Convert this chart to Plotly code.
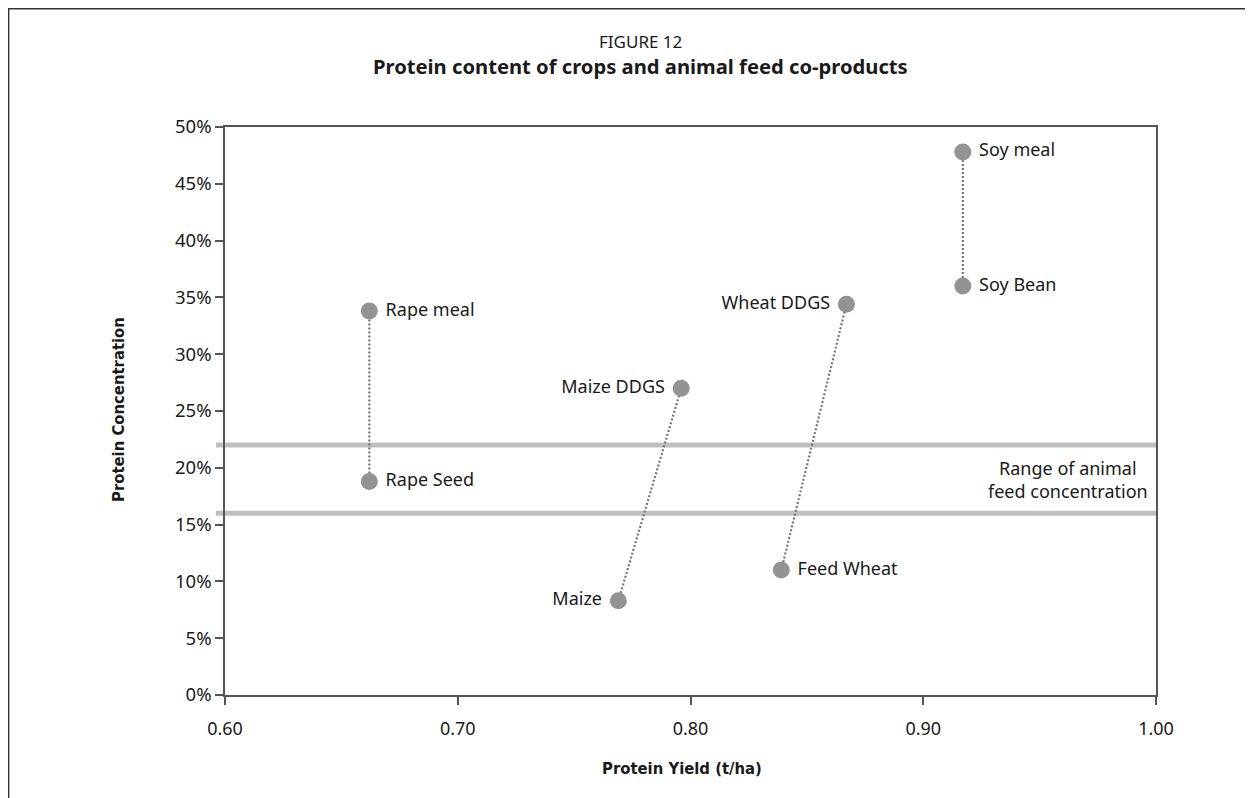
import plotly.graph_objects as go

# ---- data ----
crops = ["Rape Seed", "Maize", "Feed Wheat", "Soy Bean"]
crop_yield = [0.662, 0.769, 0.839, 0.917]
crop_protein = [0.188, 0.083, 0.110, 0.360]
crop_label_pos = ["middle right", "middle left", "middle right", "middle right"]

coproducts = ["Rape meal", "Maize DDGS", "Wheat DDGS", "Soy meal"]
coproduct_yield = [0.662, 0.796, 0.867, 0.917]
coproduct_protein = [0.338, 0.270, 0.344, 0.478]
coproduct_label_pos = ["middle right", "middle left", "middle left", "middle right"]

feed_range = [0.16, 0.22]
feed_range_label = "Range of animal<br>feed concentration"

x_ticks = [0.6, 0.7, 0.8, 0.9, 1.0]
y_ticks = [0.0, 0.05, 0.10, 0.15, 0.20, 0.25, 0.30, 0.35, 0.40, 0.45, 0.50]

FONT = "Noto Sans, Open Sans, sans-serif"
COND = "DejaVu Sans Condensed, Liberation Sans Narrow, Roboto Condensed, Roboto, sans-serif"

W, H = 1245, 790
L, R, T, B = 217, 97, 119, 103
PW, PH = W - L - R, H - T - B


def px_x(p):
    return (p - L) / PW


def px_y(p):
    return (T + PH - p) / PH


def templ(positions):
    return ["\u00a0%{text}" if "right" in p else "%{text}\u00a0" for p in positions]


fig = go.Figure()

# dotted connectors
for i in range(len(crops)):
    fig.add_trace(go.Scatter(
        x=[crop_yield[i], coproduct_yield[i]],
        y=[crop_protein[i], coproduct_protein[i]],
        mode="lines",
        line=dict(color="#767676", width=2.2, dash="2px,2px"),
        hoverinfo="skip", showlegend=False))

fig.add_trace(go.Scatter(
    x=crop_yield, y=crop_protein, text=crops, mode="markers+text",
    textposition=crop_label_pos, texttemplate=templ(crop_label_pos),
    marker=dict(size=17, color="#939393"),
    textfont=dict(family=FONT, size=18, color="#1a1a1a"),
    cliponaxis=False, showlegend=False))

fig.add_trace(go.Scatter(
    x=coproduct_yield, y=coproduct_protein, text=coproducts, mode="markers+text",
    textposition=coproduct_label_pos, texttemplate=templ(coproduct_label_pos),
    marker=dict(size=17, color="#939393"),
    textfont=dict(family=FONT, size=18, color="#1a1a1a"),
    cliponaxis=False, showlegend=False))

shapes = []
for v in feed_range:
    shapes.append(dict(type="line", xref="paper", yref="y", x0=px_x(L - 9), x1=1.0,
                       y0=v, y1=v, line=dict(color="#bfbfbf", width=5), layer="between"))
# outer frame (left and top edges of the figure box)
shapes.append(dict(type="path", xref="paper", yref="paper",
                   path=f"M {px_x(0.5)},-0.4 L {px_x(0.5)},{px_y(0.5)} L 1.4,{px_y(0.5)}",
                   line=dict(color="#333333", width=1.8)))

annotations = [
    dict(text="FIGURE 12", xref="paper", yref="paper", x=px_x(632), y=px_y(34),
         showarrow=False, font=dict(family=FONT, size=17, color="#1a1a1a"),
         xanchor="center", yanchor="middle"),
    dict(text="<b>Protein content of crops and animal feed co-products</b>", xref="paper", yref="paper",
         x=px_x(632), y=px_y(58), showarrow=False,
         font=dict(family=FONT, size=20.2, color="#1a1a1a"), xanchor="center", yanchor="middle"),
    dict(text="<b>Protein Yield (t/ha)</b>", xref="paper", yref="paper",
         x=px_x(674), y=px_y(760), showarrow=False,
         font=dict(family=COND, size=16.5, color="#1a1a1a"), xanchor="center", yanchor="middle"),
    dict(text="<b>Protein Concentration</b>", xref="paper", yref="paper",
         x=px_x(111), y=px_y(402), showarrow=False, textangle=-90,
         font=dict(family=COND, size=16.5, color="#1a1a1a"), xanchor="center", yanchor="middle"),
    dict(text=feed_range_label, xref="paper", yref="y",
         x=px_x(1060), y=sum(feed_range) / 2, showarrow=False, align="center",
         font=dict(family=FONT, size=18, color="#1a1a1a"), xanchor="center", yanchor="middle"),
]

fig.update_layout(
    width=W, height=H,
    margin=dict(l=L, r=R, t=T, b=B),
    paper_bgcolor="white", plot_bgcolor="white",
    shapes=shapes, annotations=annotations,
    xaxis=dict(range=[0.6, 1.0], tickvals=x_ticks, tickformat=".2f",
               showgrid=False, zeroline=False, showline=True, mirror=True,
               linecolor="#555555", linewidth=1.5, ticks="outside", ticklen=8,
               tickcolor="#555555", tickwidth=1.5, ticklabelstandoff=9,
               tickfont=dict(family=FONT, size=18, color="#1a1a1a")),
    yaxis=dict(range=[0, 0.5], tickvals=y_ticks, tickformat=".0%",
               showgrid=False, zeroline=False, showline=True, mirror=True,
               linecolor="#555555", linewidth=1.5, ticks="outside", ticklen=8,
               tickcolor="#555555", tickwidth=1.5, ticklabelstandoff=0,
               tickfont=dict(family=FONT, size=18.5, color="#1a1a1a")),
)

fig.write_html("out.html")
